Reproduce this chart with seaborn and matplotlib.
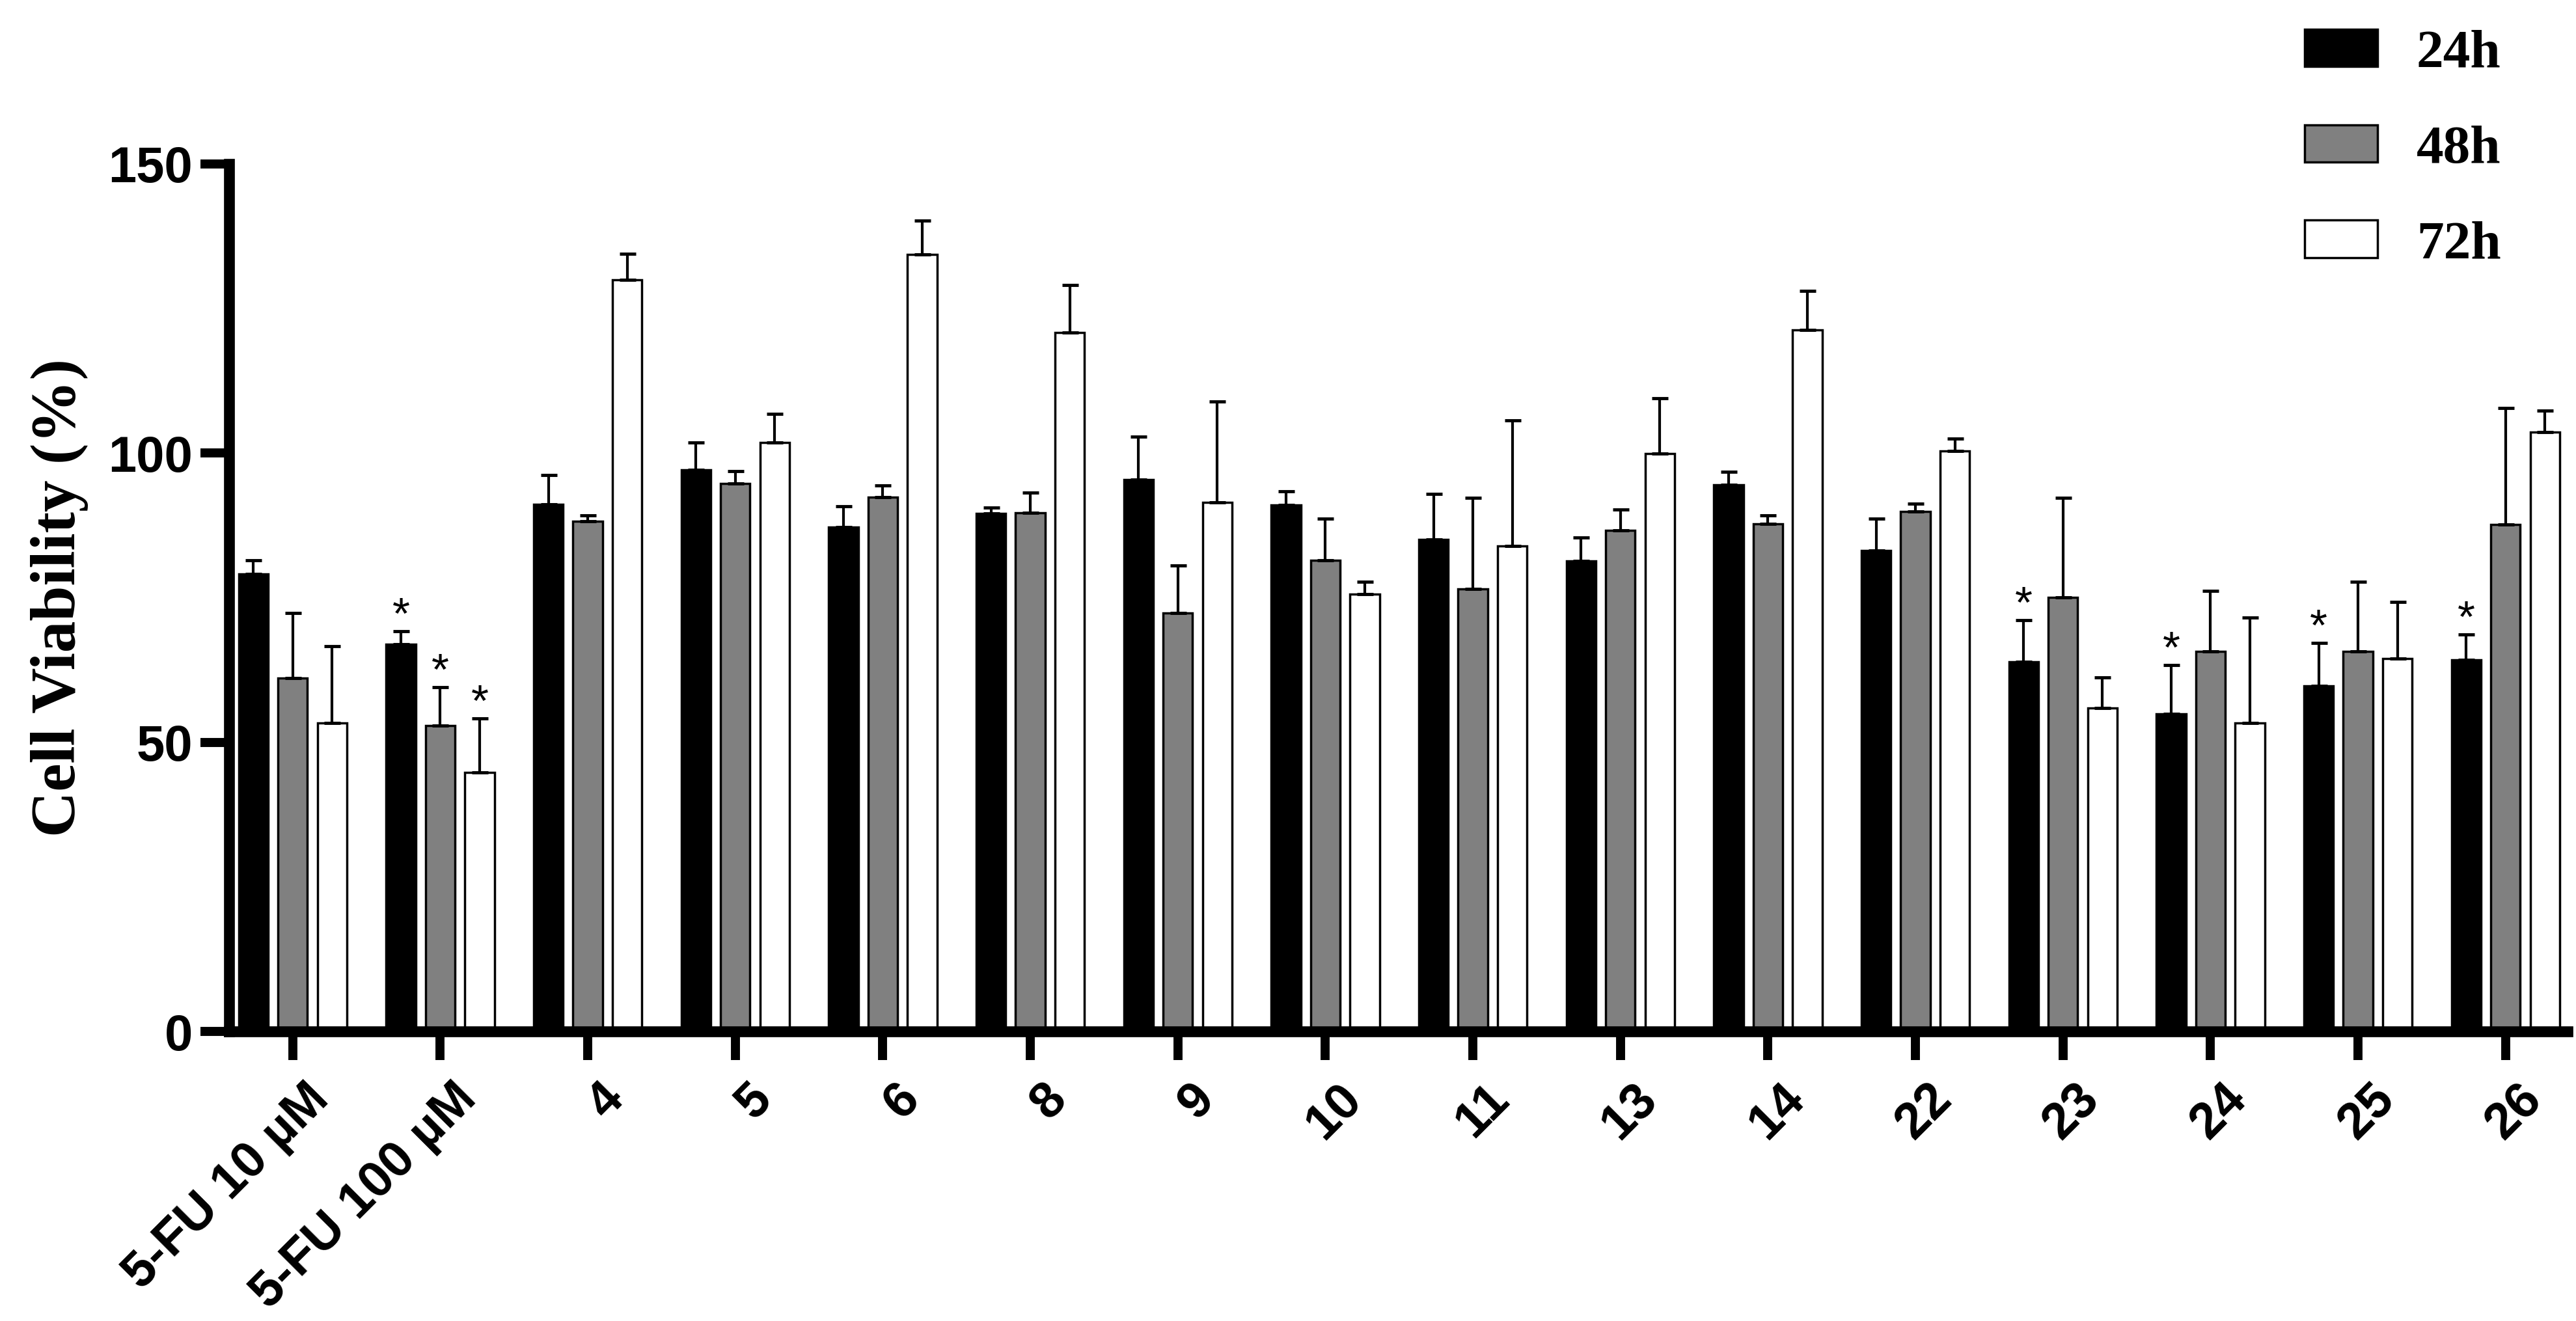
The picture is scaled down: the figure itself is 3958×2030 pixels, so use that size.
import numpy as np
import pandas as pd
import seaborn as sns
import matplotlib.pyplot as plt
from matplotlib.transforms import ScaledTranslation

compounds = ['5-FU 10 µM', '5-FU 100 µM', '4', '5', '6', '8', '9', '10',
             '11', '13', '14', '22', '23', '24', '25', '26']
times = ['24h', '48h', '72h']

via_24h = [79.1, 67.0, 91.1, 97.1, 87.2, 89.6, 95.4, 91.0, 85.1, 81.3, 94.5, 83.2, 63.9, 54.9, 59.7, 64.2]
sd_24h = [2.4, 2.2, 5.1, 4.7, 3.6, 1.0, 7.5, 2.4, 7.9, 4.1, 2.3, 5.5, 7.2, 8.5, 7.5, 4.4]

via_48h = [61.1, 52.9, 88.2, 94.7, 92.4, 89.7, 72.3, 81.5, 76.5, 86.6, 87.8, 89.9, 75.0, 65.7, 65.7, 87.7]
sd_48h = [11.2, 6.6, 1.0, 2.2, 2.0, 3.5, 8.3, 7.2, 15.8, 3.6, 1.4, 1.3, 17.3, 10.5, 12.0, 20.1]

via_72h = [53.3, 44.8, 130.0, 101.8, 134.3, 120.8, 91.5, 75.6, 83.9, 99.9, 121.3, 100.4, 55.9, 53.3, 64.5, 103.6]
sd_72h = [13.3, 9.3, 4.5, 5.0, 5.9, 8.3, 17.4, 2.1, 21.8, 9.6, 6.7, 2.1, 5.3, 18.3, 9.8, 3.8]

# significant bars (compound, time)
stars = [('5-FU 100 µM', '24h'), ('5-FU 100 µM', '48h'), ('5-FU 100 µM', '72h'),
         ('23', '24h'), ('24', '24h'), ('25', '24h'), ('26', '24h')]

df = pd.DataFrame({
    'compound': compounds * 3,
    'time': np.repeat(times, len(compounds)),
    'viability': via_24h + via_48h + via_72h,
})
sds = {'24h': sd_24h, '48h': sd_48h, '72h': sd_72h}

sns.set_style('ticks')
plt.rcParams['font.family'] = ['Liberation Sans', 'DejaVu Sans']
for k in ['text.color', 'axes.labelcolor', 'xtick.color', 'ytick.color', 'axes.edgecolor']:
    plt.rcParams[k] = 'black'

fig = plt.figure(figsize=(39.58, 20.30), dpi=100)
ax = fig.add_axes([0.0889, 0.2192, 0.9078, 0.6567])

sns.barplot(data=df, x='compound', y='viability', hue='time', order=compounds,
            hue_order=times, palette=['black', '#808080', 'white'],
            edgecolor='black', linewidth=2.5, gap=0.25, errorbar=None, ax=ax)

# upper error bars + stars
for j, t in enumerate(times):
    for i, bar in enumerate(ax.containers[j]):
        x = bar.get_x() + bar.get_width() / 2
        y = bar.get_height()
        sd = sds[t][i]
        ax.errorbar(x, y, yerr=[[0], [sd]], fmt='none', ecolor='black',
                    elinewidth=3, capsize=9, capthick=3.5, zorder=1)
        if (compounds[i], t) in stars:
            ax.annotate('*', (x, y + sd), xytext=(0, 3), textcoords='offset points',
                        ha='center', va='baseline', fontsize=50, color='black')

ax.set_xlim(-0.432, 15.42)
ax.set_ylim(0, 150)
ax.set_yticks([0, 50, 100, 150])
ax.set_xlabel('')
ax.set_ylabel('Cell Viability (%)', fontsize=70, fontweight='bold',
              family=['Liberation Serif', 'DejaVu Serif'])
ax.yaxis.set_label_coords(-0.06, 0.5)

sns.despine(ax=ax)
for s in ['left', 'bottom']:
    ax.spines[s].set_linewidth(12)
ax.tick_params(axis='both', width=10, length=32, labelsize=56, color='black',
               labelcolor='black')
ax.tick_params(axis='y', pad=8)
ax.tick_params(axis='x', pad=16)
plt.setp(ax.get_yticklabels(), fontweight='bold')

ax.set_xticks(range(len(compounds)))
ax.set_xticklabels(compounds, rotation=45, ha='right', va='top',
                   rotation_mode='anchor', fontweight='bold')
shift = ScaledTranslation(13 / 72, 0, fig.dpi_scale_trans)
for lab in ax.get_xticklabels():
    lab.set_transform(lab.get_transform() + shift)

handles, labels = ax.get_legend_handles_labels()
ax.legend_.remove()
fig.legend(handles, labels, loc='upper left', bbox_to_anchor=(0.8947, 0.978),
           frameon=False, borderpad=0, borderaxespad=0, handlelength=1.34,
           handleheight=0.69, handletextpad=0.72, labelspacing=0.85,
           prop={'family': ['Liberation Serif', 'DejaVu Serif'], 'weight': 'bold', 'size': 60})

fig.savefig('out.png', dpi=100)
